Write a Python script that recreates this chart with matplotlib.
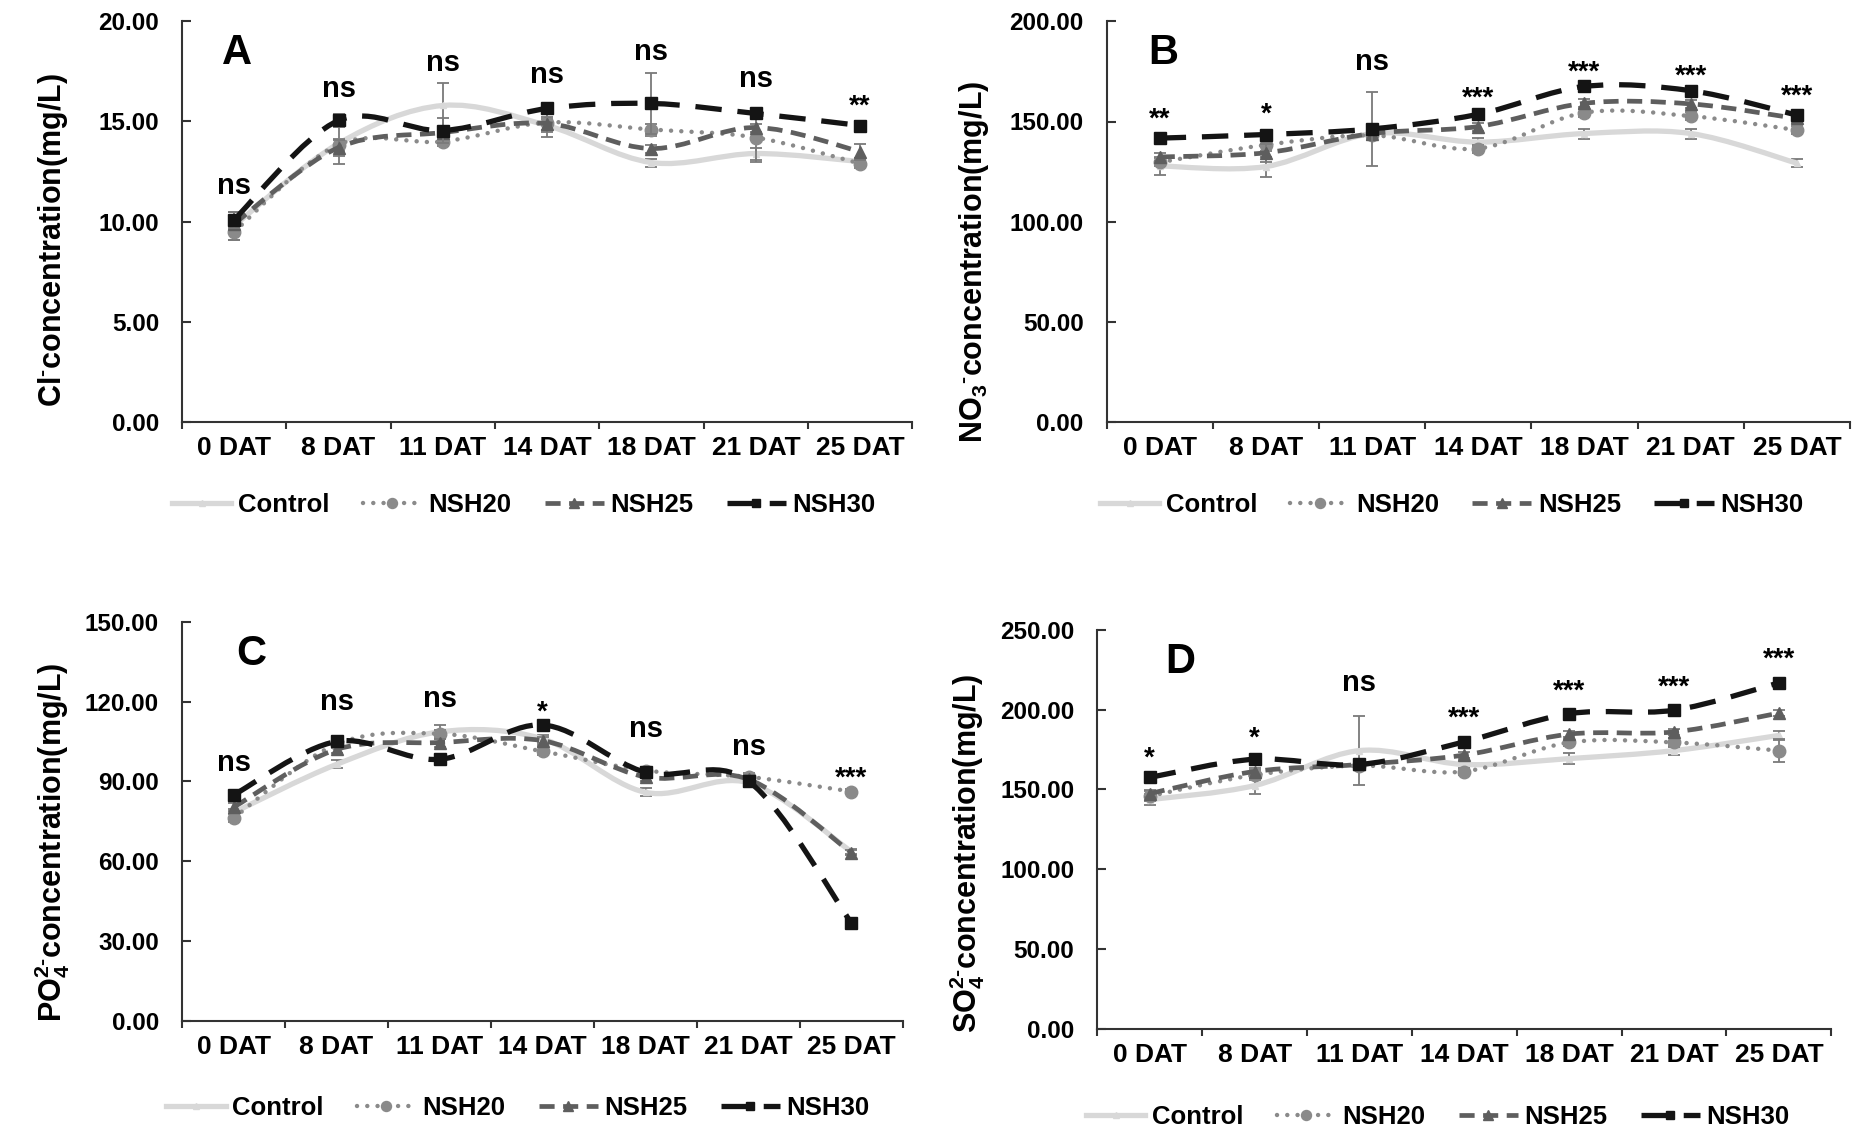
import numpy as np
import matplotlib
matplotlib.use("Agg")
import matplotlib.pyplot as plt
from matplotlib.path import Path
from matplotlib.patches import PathPatch
from matplotlib.lines import Line2D

# ---- data ----
days = ["0 DAT", "8 DAT", "11 DAT", "14 DAT", "18 DAT", "21 DAT", "25 DAT"]
series_names = ["Control", "NSH20", "NSH25", "NSH30"]

# panel A: Cl-
cl_control = [9.8, 13.9, 15.8, 14.8, 12.95, 13.4, 13.0]
cl_nsh20 = [9.5, 13.85, 14.0, 14.95, 14.6, 14.2, 12.9]
cl_nsh25 = [9.9, 13.7, 14.45, 14.9, 13.65, 14.7, 13.5]
cl_nsh30 = [10.1, 15.05, 14.55, 15.65, 15.9, 15.4, 14.8]
cl_err_control = [0.7, 1.0, 1.1, 0.3, 0.2, 0.3, 0.2]
cl_err_nsh20 = [0.4, 0.3, 0.2, 0.7, 0.3, 1.2, 0.2]
cl_err_nsh25 = [0.3, 0.4, 0.2, 0.3, 0.2, 0.2, 0.4]
cl_err_nsh30 = [0.4, 0.3, 0.6, 0.2, 1.5, 0.2, 0.2]
cl_marks = ["ns", "ns", "ns", "ns", "ns", "ns", "**"]
cl_mark_y = [11.4, 16.2, 17.5, 16.9, 18.05, 16.7, 15.4]

# panel B: NO3-
no3_control = [127.8, 127.5, 144.0, 139.7, 144.0, 144.0, 129.2]
no3_nsh20 = [129.6, 138.3, 143.1, 136.5, 154.4, 152.7, 145.7]
no3_nsh25 = [132.3, 134.4, 144.0, 147.5, 159.1, 158.8, 151.5]
no3_nsh30 = [141.7, 143.5, 146.3, 153.6, 167.5, 165.4, 153.2]
no3_err_control = [4.5, 5.0, 3.0, 2.0, 2.5, 2.5, 2.0]
no3_err_nsh20 = [2.0, 3.0, 2.0, 2.0, 2.0, 2.0, 2.0]
no3_err_nsh25 = [2.0, 4.5, 2.0, 2.0, 2.0, 2.0, 2.0]
no3_err_nsh30 = [1.5, 1.5, 18.5, 1.5, 1.5, 1.5, 1.5]
no3_marks = ["**", "*", "ns", "***", "***", "***", "***"]
no3_mark_y = [147.6, 149.7, 175.8, 157.7, 170.9, 168.8, 158.9]

# panel C: PO4 2-
po4_control = [78.3, 96.4, 108.6, 106.0, 85.9, 89.5, 63.6]
po4_nsh20 = [76.3, 104.0, 107.9, 101.3, 94.1, 91.7, 86.2]
po4_nsh25 = [80.3, 102.0, 104.6, 105.3, 91.7, 90.8, 63.2]
po4_nsh30 = [84.9, 105.0, 98.3, 111.2, 93.4, 90.1, 36.8]
po4_err_control = [1.5, 1.5, 2.5, 1.5, 1.5, 1.5, 1.0]
po4_err_nsh20 = [1.5, 1.5, 1.5, 1.5, 1.5, 1.5, 1.0]
po4_err_nsh25 = [1.5, 1.5, 1.5, 1.5, 1.5, 1.5, 1.0]
po4_err_nsh30 = [1.5, 1.5, 1.5, 1.5, 1.5, 1.5, 1.0]
po4_marks = ["ns", "ns", "ns", "*", "ns", "ns", "***"]
po4_mark_y = [94.1, 116.7, 117.8, 113.3, 106.6, 100.0, 88.5]

# panel D: SO4 2-
so4_control = [143.6, 152.4, 174.3, 165.6, 169.3, 174.3, 183.8]
so4_nsh20 = [145.8, 159.0, 164.9, 161.2, 179.4, 179.4, 174.3]
so4_nsh25 = [147.4, 161.2, 165.6, 171.5, 184.6, 186.0, 197.8]
so4_nsh30 = [157.5, 168.9, 165.6, 179.8, 197.4, 199.6, 216.7]
so4_err_control = [3.5, 5.0, 21.5, 3.0, 3.2, 3.0, 3.0]
so4_err_nsh20 = [3.0, 3.0, 2.0, 2.0, 2.0, 3.0, 7.0]
so4_err_nsh25 = [2.0, 2.0, 2.0, 2.0, 2.0, 2.0, 2.0]
so4_err_nsh30 = [2.0, 2.0, 2.0, 2.0, 2.0, 2.0, 2.0]
so4_marks = ["*", "*", "ns", "***", "***", "***", "***"]
so4_mark_y = [165.1, 177.1, 211.6, 189.9, 207.0, 209.2, 226.7]

plt.rcParams["font.family"] = ["Liberation Sans", "DejaVu Sans"]
plt.rcParams["font.weight"] = "bold"
plt.rcParams["mathtext.fontset"] = "custom"
plt.rcParams["mathtext.rm"] = "Liberation Sans:bold"
plt.rcParams["mathtext.it"] = "Liberation Sans:bold"
plt.rcParams["mathtext.bf"] = "Liberation Sans:bold"
plt.rcParams["mathtext.sf"] = "Liberation Sans:bold"

styles = {
    "Control": dict(color="#d8d8d8", ls="-", lw=3.8, marker="^", ms=5, cap="butt"),
    "NSH20": dict(color="#8a8a8a", ls=(0, (0.01, 2.3)), lw=3.2, marker="o", ms=9, cap="round"),
    "NSH25": dict(color="#5e5e5e", ls=(0, (3.2, 1.8)), lw=3.4, marker="^", ms=9, cap="butt"),
    "NSH30": dict(color="#141414", ls=(0, (5, 3)), lw=3.8, marker="s", ms=8, cap="butt"),
}


def smooth_path(xs, ys):
    # Excel-style smoothed line: Catmull-Rom segments as cubic Beziers
    pts = np.column_stack([xs, ys]).astype(float)
    padded = np.vstack([pts[0], pts, pts[-1]])
    verts = [pts[0]]
    codes = [Path.MOVETO]
    for i in range(len(pts) - 1):
        p0, p1, p2, p3 = padded[i], padded[i + 1], padded[i + 2], padded[i + 3]
        verts += [p1 + (p2 - p0) / 6, p2 - (p3 - p1) / 6, p2]
        codes += [Path.CURVE4] * 3
    return Path(verts, codes)


panels = [
    dict(rect=(0.0977, 0.625, 0.392, 0.356), values=[cl_control, cl_nsh20, cl_nsh25, cl_nsh30],
         errors=[cl_err_control, cl_err_nsh20, cl_err_nsh25, cl_err_nsh30],
         ymax=20, ystep=5, ylabel=r"Cl$^{\text{-}}$concentration(mg/L)", letter="A", letter_pos=(0.075, 0.92),
         marks=cl_marks, mark_y=cl_mark_y, legend_at=(0.468, -0.208), label_xy=(-0.153, 0.455)),
    dict(rect=(0.594, 0.625, 0.399, 0.356), values=[no3_control, no3_nsh20, no3_nsh25, no3_nsh30],
         errors=[no3_err_control, no3_err_nsh20, no3_err_nsh25, no3_err_nsh30],
         ymax=200, ystep=50, ylabel=r"NO$_{3}$$^{\text{-}}$concentration(mg/L)", letter="B", letter_pos=(0.076, 0.92),
         marks=no3_marks, mark_y=no3_mark_y, legend_at=(0.464, -0.208), label_xy=(-0.156, 0.40)),
    dict(rect=(0.0977, 0.0924, 0.387, 0.355), values=[po4_control, po4_nsh20, po4_nsh25, po4_nsh30],
         errors=[po4_err_control, po4_err_nsh20, po4_err_nsh25, po4_err_nsh30],
         ymax=150, ystep=30, ylabel=r"PO$_{4}^{2\text{-}}$concentration(mg/L)", letter="C", letter_pos=(0.096, 0.92),
         marks=po4_marks, mark_y=po4_mark_y, legend_at=(0.466, -0.218), label_xy=(-0.153, 0.447)),
    dict(rect=(0.589, 0.0853, 0.394, 0.355), values=[so4_control, so4_nsh20, so4_nsh25, so4_nsh30],
         errors=[so4_err_control, so4_err_nsh20, so4_err_nsh25, so4_err_nsh30],
         ymax=250, ystep=50, ylabel=r"SO$_{4}^{2\text{-}}$concentration(mg/L)", letter="D", letter_pos=(0.113, 0.92),
         marks=so4_marks, mark_y=so4_mark_y, legend_at=(0.464, -0.219), label_xy=(-0.150, 0.44)),
]

fig = plt.figure(figsize=(18.63, 11.25), dpi=100)
x = np.arange(len(days)) + 0.5

for panel in panels:
    ax = fig.add_axes(panel["rect"])
    handles = []
    for zorder, (name, ys, err) in enumerate(zip(series_names, panel["values"], panel["errors"]), start=2):
        st = styles[name]
        ax.errorbar(x, ys, yerr=err, fmt="none", ecolor="#7a7a7a", elinewidth=1.3,
                    capsize=4, capthick=1.3, zorder=zorder)
        patch = PathPatch(smooth_path(x, ys), facecolor="none", edgecolor=st["color"],
                          lw=st["lw"], linestyle=st["ls"], capstyle=st["cap"],
                          joinstyle="round", zorder=zorder)
        ax.add_patch(patch)
        ax.plot(x, ys, linestyle="none", marker=st["marker"], ms=st["ms"],
                color=st["color"], zorder=zorder)
        handles.append(Line2D([], [], color=st["color"], lw=st["lw"], linestyle=st["ls"],
                              dash_capstyle=st["cap"], marker=st["marker"],
                              ms=st["ms"] * 0.8, label=name))

    ax.set_xlim(0, len(days))
    ax.set_ylim(0, panel["ymax"])
    ax.set_yticks(np.arange(0, panel["ymax"] + 0.1, panel["ystep"]))
    ax.yaxis.set_major_formatter(matplotlib.ticker.FormatStrFormatter("%.2f"))
    ax.set_xticks(range(len(days) + 1))
    ax.set_xticklabels([])
    ax.set_xticks(x, minor=True)
    ax.set_xticklabels(days, minor=True)
    ax.tick_params(axis="x", which="major", direction="out", length=5, width=1.5, color="#333333")
    ax.tick_params(axis="x", which="minor", length=0, pad=10, labelsize=19)
    ax.tick_params(axis="y", direction="in", length=6.5, width=1.5, color="#333333",
                   pad=16.5, labelsize=17.5)
    for side in ("top", "right"):
        ax.spines[side].set_visible(False)
    for side in ("left", "bottom"):
        ax.spines[side].set_linewidth(1.5)
        ax.spines[side].set_color("#333333")

    ax.set_ylabel(panel["ylabel"], fontsize=22, fontweight="bold")
    ax.yaxis.set_label_coords(*panel["label_xy"])

    ax.text(*panel["letter_pos"], panel["letter"], transform=ax.transAxes, fontsize=30,
            fontweight="bold", ha="center", va="center")
    for xi, label, yi in zip(x, panel["marks"], panel["mark_y"]):
        ax.text(xi, yi, label, ha="center", va="baseline", fontweight="bold",
                fontsize=21 if label == "ns" else 20)

    ax.legend(handles=handles, loc="center", bbox_to_anchor=panel["legend_at"], ncol=4,
              frameon=False, fontsize=18.5, handlelength=2.3, handletextpad=0.25,
              columnspacing=1.3, numpoints=1)

fig.savefig("out.png", dpi=100, facecolor="white")
